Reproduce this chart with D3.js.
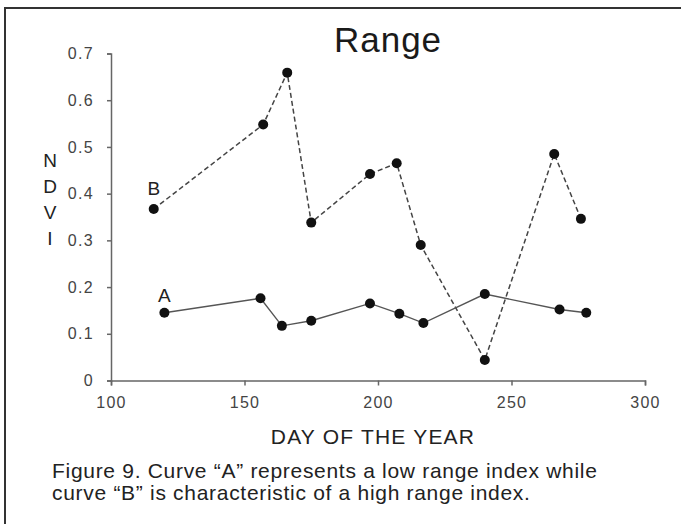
<!DOCTYPE html>
<html>
<head>
<meta charset="utf-8">
<script src="https://cdn.jsdelivr.net/npm/d3@7"></script>
<style>
  body { margin: 0; background: #fff; }
  svg { display: block; }
</style>
</head>
<body>
<div id="chart"></div>
<script>
// values
var daysA = [120, 156, 164, 175, 197, 208, 217, 240, 268, 278];
var ndviA = [0.145, 0.176, 0.117, 0.128, 0.165, 0.143, 0.123, 0.185, 0.152, 0.145];
var daysB = [116, 157, 166, 175, 197, 207, 216, 240, 266, 276];
var ndviB = [0.367, 0.548, 0.659, 0.338, 0.442, 0.465, 0.290, 0.044, 0.485, 0.346];
var xTicks = [100, 150, 200, 250, 300];
var yTicks = [0, 0.1, 0.2, 0.3, 0.4, 0.5, 0.6, 0.7];
var yLetters = ["N", "D", "V", "I"];
var caption = ["Figure 9. Curve \u201cA\u201d represents a low range index while",
               "curve \u201cB\u201d is characteristic of a high range index."];

var W = 681, H = 524;
var svg = d3.select("#chart").append("svg")
    .attr("width", W)
    .attr("height", H)
    .style("font-family", "'Liberation Sans', Arial, sans-serif");

// frame (top + left edge of the scanned box)
svg.append("path")
    .attr("d", "M5," + H + "V8H" + W)
    .attr("fill", "none")
    .attr("stroke", "#333")
    .attr("stroke-width", 2);

var x = d3.scaleLinear().domain([100, 300]).range([111, 645]);
var y = d3.scaleLinear().domain([0, 0.7]).range([380.5, 53.5]);

// axes
var gx = svg.append("g")
    .attr("transform", "translate(0," + y(0) + ")")
    .call(d3.axisBottom(x).tickValues(xTicks).tickFormat(d3.format("d")).tickSize(5).tickPadding(11));
var gy = svg.append("g")
    .attr("transform", "translate(" + x(100) + ",0)")
    .call(d3.axisLeft(y).tickValues(yTicks).tickFormat(function(d){ return d === 0 ? "0" : d3.format(".1f")(d); }).tickSize(4).tickPadding(13));

[gx, gy].forEach(function(g) {
  g.selectAll("path, line").attr("stroke", "#666").attr("stroke-width", 1.5);
  g.selectAll("text")
    .attr("fill", "#444")
    .style("font-size", "16px")
    .style("letter-spacing", "1.3px")
    .style("font-family", "'Liberation Sans', Arial, sans-serif");
});

// lines
var line = d3.line().x(function(d){ return x(d[0]); }).y(function(d){ return y(d[1]); });
var ptsA = d3.zip(daysA, ndviA);
var ptsB = d3.zip(daysB, ndviB);

svg.append("path")
    .datum(ptsB)
    .attr("d", line)
    .attr("fill", "none")
    .attr("stroke", "#444")
    .attr("stroke-width", 1.5)
    .attr("stroke-dasharray", "5,3");

svg.append("path")
    .datum(ptsA)
    .attr("d", line)
    .attr("fill", "none")
    .attr("stroke", "#555")
    .attr("stroke-width", 1.4);

svg.selectAll(".ptB")
    .data(ptsB)
    .enter().append("circle")
    .attr("class", "ptB")
    .attr("cx", function(d){ return x(d[0]); })
    .attr("cy", function(d){ return y(d[1]); })
    .attr("r", 5)
    .attr("fill", "#111");

svg.selectAll(".ptA")
    .data(ptsA)
    .enter().append("circle")
    .attr("class", "ptA")
    .attr("cx", function(d){ return x(d[0]); })
    .attr("cy", function(d){ return y(d[1]); })
    .attr("r", 5)
    .attr("fill", "#111");

// curve labels
svg.append("text")
    .attr("x", x(daysB[0]))
    .attr("y", y(ndviB[0]) - 14)
    .attr("text-anchor", "middle")
    .attr("fill", "#222")
    .style("font-size", "19px")
    .text("B");
svg.append("text")
    .attr("x", x(daysA[0]))
    .attr("y", y(ndviA[0]) - 11)
    .attr("text-anchor", "middle")
    .attr("fill", "#222")
    .style("font-size", "19px")
    .text("A");

// title
svg.append("text")
    .attr("x", 388)
    .attr("y", 52)
    .attr("text-anchor", "middle")
    .attr("fill", "#1a1a1a")
    .style("font-size", "35px")
    .style("letter-spacing", "1px")
    .text("Range");

// y label, stacked letters
svg.selectAll(".ylab")
    .data(yLetters)
    .enter().append("text")
    .attr("class", "ylab")
    .attr("x", 50)
    .attr("y", function(d, i){ return 167 + i * 26; })
    .attr("text-anchor", "middle")
    .attr("fill", "#222")
    .style("font-size", "19px")
    .text(function(d){ return d; });

// x label
svg.append("text")
    .attr("x", 373)
    .attr("y", 444)
    .attr("text-anchor", "middle")
    .attr("fill", "#222")
    .style("font-size", "21px")
    .style("letter-spacing", "1.2px")
    .text("DAY OF THE YEAR");

// caption
svg.selectAll(".cap")
    .data(caption)
    .enter().append("text")
    .attr("class", "cap")
    .attr("x", 52)
    .attr("y", function(d, i){ return 478 + i * 22; })
    .attr("fill", "#222")
    .style("font-size", "21px")
    .style("letter-spacing", "0.7px")
    .text(function(d){ return d; });
</script>
</body>
</html>
